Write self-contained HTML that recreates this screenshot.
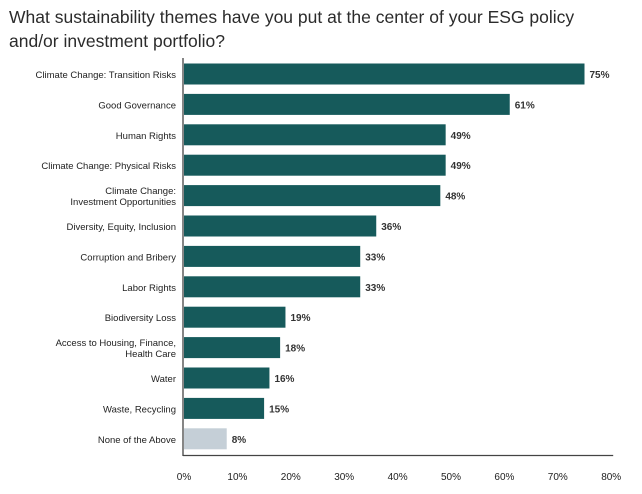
<!DOCTYPE html>
<html><head><meta charset="utf-8"><style>
body{margin:0;background:#fff;width:642px;height:494px;overflow:hidden;font-family:"Liberation Sans",sans-serif}
#title{position:absolute;left:9px;top:5px;font-size:17.5px;line-height:24px;color:#2b2b2b}
</style></head><body>
<div id="title">What sustainability themes have you put at the center of your ESG policy<br>and/or investment portfolio?</div>
<svg id="chart" width="642" height="494" style="position:absolute;left:0;top:0" xmlns="http://www.w3.org/2000/svg"></svg>
<script>
const categories=[["Climate Change: Transition Risks"],["Good Governance"],["Human Rights"],["Climate Change: Physical Risks"],["Climate Change:","Investment Opportunities"],["Diversity, Equity, Inclusion"],["Corruption and Bribery"],["Labor Rights"],["Biodiversity Loss"],["Access to Housing, Finance,","Health Care"],["Water"],["Waste, Recycling"],["None of the Above"]];
const values=[75,61,49,49,48,36,33,33,19,18,16,15,8];
const ticks=[0,10,20,30,40,50,60,70,80];
const svg=document.getElementById('chart');
const NS='http://www.w3.org/2000/svg';
const x0=184,pxPer=5.34,y0=74,step=30.4,bh=21;
const xs=v=>x0+v*pxPer, ys=i=>y0+i*step;
function mk(t,a){const e=document.createElementNS(NS,t);for(const k in a)e.setAttribute(k,a[k]);svg.appendChild(e);return e;}
values.forEach((v,i)=>{
  const r=mk('rect',{x:x0,y:ys(i)-bh/2,width:xs(v)-x0,height:bh,fill:i===values.length-1?'#c5cfd7':'#165a5b'});
  
  
  const t=mk('text',{x:xs(v)+5,y:ys(i)+4,'font-size':'10','font-weight':'bold',fill:'#333'});
  t.textContent=v+'%';
  
  
  const lines=categories[i];
  lines.forEach((l,j)=>{
    const c=mk('text',{x:176,y:ys(i)+4+(j-(lines.length-1)/2)*11,'font-size':'9.5','text-anchor':'end',fill:'#222'});
    c.textContent=l;
    
    
  });
});
const ya=mk('line',{x1:x0-1,y1:58,x2:x0-1,y2:456,stroke:'#444','stroke-width':1.3});


const xa=mk('line',{x1:x0-1,y1:455.5,x2:xs(80)+2,y2:455.5,stroke:'#444','stroke-width':1.3});


ticks.forEach(t=>{
  const e=mk('text',{x:xs(t),y:480,'font-size':'10','text-anchor':'middle',fill:'#222'});
  e.textContent=t+'%';
  
  
});
</script>
</body></html>
